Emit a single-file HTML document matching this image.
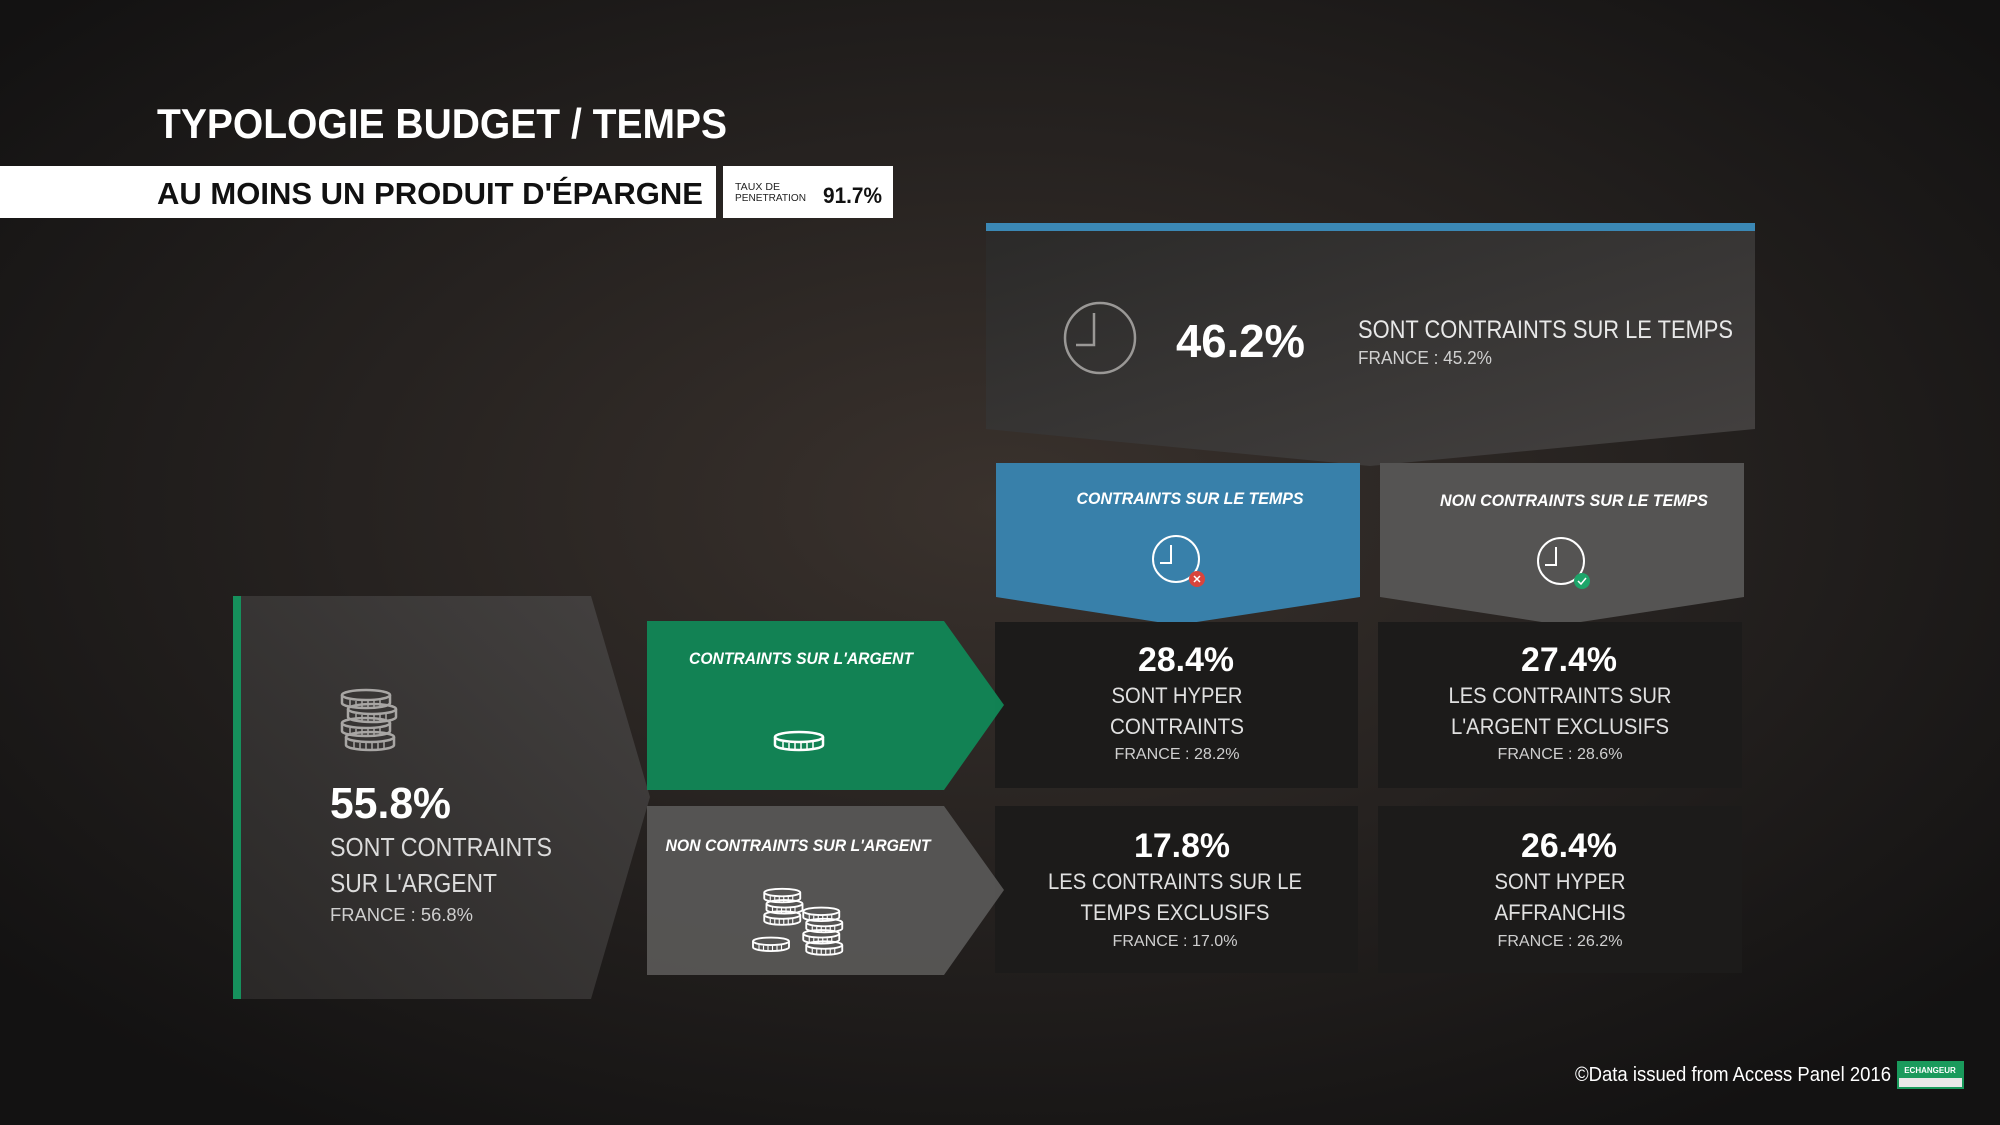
<!DOCTYPE html>
<html><head><meta charset="utf-8"><style>
html,body{margin:0;padding:0;background:#151313;}
svg{display:block}
text{font-family:"Liberation Sans",sans-serif;}
</style></head><body>
<svg width="2000" height="1125" viewBox="0 0 2000 1125" xmlns="http://www.w3.org/2000/svg">
<defs>
<radialGradient id="bg" cx="0.5" cy="0.45" r="0.65">
<stop offset="0" stop-color="#3a322d"/>
<stop offset="0.5" stop-color="#262220"/>
<stop offset="1" stop-color="#131212"/>
</radialGradient>
<linearGradient id="topbox" x1="0" y1="0" x2="1" y2="1">
<stop offset="0" stop-color="#2b2a29"/><stop offset="1" stop-color="#444140"/>
</linearGradient>
<linearGradient id="leftbox" x1="0" y1="1" x2="1" y2="0">
<stop offset="0" stop-color="#2a2827"/><stop offset="1" stop-color="#444140"/>
</linearGradient>
<g id="coin">
<ellipse cx="0" cy="0" rx="24" ry="5" fill="none" stroke="currentColor" stroke-width="2.5"/>
<path d="M-24 0 v8 a24 5 0 0 0 48 0 v-8" fill="none" stroke="currentColor" stroke-width="2.5"/>
<path d="M-16 5v7 M-10 6v7 M-4 6v7 M2 6v7 M8 6v7 M14 5v7" stroke="currentColor" stroke-width="1.5"/>
</g>
</defs>
<rect width="2000" height="1125" fill="url(#bg)"/>

<!-- title -->
<text x="157" y="138" font-size="42" font-weight="bold" fill="#fff" textLength="570" lengthAdjust="spacingAndGlyphs">TYPOLOGIE BUDGET / TEMPS</text>
<rect x="0" y="166" width="716" height="52" fill="#fff"/>
<text x="157" y="204" font-size="31" font-weight="bold" fill="#111" textLength="546" lengthAdjust="spacingAndGlyphs">AU MOINS UN PRODUIT D'ÉPARGNE</text>
<rect x="723" y="166" width="170" height="52" fill="#fff"/>
<text x="735" y="190" font-size="10" fill="#222" textLength="45" lengthAdjust="spacingAndGlyphs">TAUX DE</text>
<text x="735" y="201" font-size="10" fill="#222" textLength="71" lengthAdjust="spacingAndGlyphs">PENETRATION</text>
<text x="823" y="203" font-size="22" font-weight="bold" fill="#111" textLength="59" lengthAdjust="spacingAndGlyphs">91.7%</text>

<!-- top box -->
<polygon points="986,231 1755,231 1755,429 1370,466 986,429" fill="url(#topbox)"/>
<rect x="986" y="223" width="769" height="8" fill="#3b88b5"/>
<circle cx="1100" cy="338" r="35" fill="none" stroke="#9a9896" stroke-width="2.5"/>
<path d="M1094 313 v32 h-18" fill="none" stroke="#9a9896" stroke-width="2.5"/>
<text x="1176" y="357" font-size="46" font-weight="bold" fill="#fff" textLength="129" lengthAdjust="spacingAndGlyphs">46.2%</text>
<text x="1358" y="338" font-size="25" fill="#e8e8e8" textLength="375" lengthAdjust="spacingAndGlyphs">SONT CONTRAINTS SUR LE TEMPS</text>
<text x="1358" y="364" font-size="18" fill="#d0d0d0" textLength="134" lengthAdjust="spacingAndGlyphs">FRANCE :  45.2%</text>

<!-- blue and grey header boxes -->
<polygon points="996,463 1360,463 1360,597 1177,625 996,597" fill="#3880aa"/>
<polygon points="1380,463 1744,463 1744,597 1561,625 1380,597" fill="#555453"/>
<text x="1190" y="504" font-size="17" font-weight="bold" font-style="italic" fill="#fff" text-anchor="middle" textLength="227" lengthAdjust="spacingAndGlyphs">CONTRAINTS SUR LE TEMPS</text>
<text x="1574" y="506" font-size="17" font-weight="bold" font-style="italic" fill="#fff" text-anchor="middle" textLength="268" lengthAdjust="spacingAndGlyphs">NON CONTRAINTS SUR LE TEMPS</text>
<circle cx="1176" cy="559" r="23" fill="none" stroke="#fff" stroke-width="2"/>
<path d="M1171 545 v18 h-11" fill="none" stroke="#fff" stroke-width="2"/>
<circle cx="1197" cy="579" r="8" fill="#d9443c"/>
<path d="M1194 576l6 6M1200 576l-6 6" stroke="#fff" stroke-width="1.5"/>
<circle cx="1561" cy="561" r="23" fill="none" stroke="#fff" stroke-width="2"/>
<path d="M1556 547 v18 h-11" fill="none" stroke="#fff" stroke-width="2"/>
<circle cx="1582" cy="581" r="8" fill="#1da56a"/>
<path d="M1578 581l3 3 5-6" fill="none" stroke="#fff" stroke-width="1.5"/>

<!-- cells -->
<rect x="995" y="622" width="363" height="166" fill="#1c1b1a"/>
<rect x="1378" y="622" width="364" height="166" fill="#1c1b1a"/>
<rect x="995" y="806" width="363" height="167" fill="#1c1b1a"/>
<rect x="1378" y="806" width="364" height="167" fill="#1c1b1a"/>
<g fill="#fff" text-anchor="middle">
<text x="1186" y="671" font-size="34" font-weight="bold" textLength="96" lengthAdjust="spacingAndGlyphs">28.4%</text>
<text x="1177" y="703" font-size="22" fill="#e0e0e0" textLength="131" lengthAdjust="spacingAndGlyphs">SONT HYPER</text>
<text x="1177" y="734" font-size="22" fill="#e0e0e0" textLength="134" lengthAdjust="spacingAndGlyphs">CONTRAINTS</text>
<text x="1177" y="759" font-size="16" fill="#cfcfcf" textLength="125" lengthAdjust="spacingAndGlyphs">FRANCE :  28.2%</text>
<text x="1569" y="671" font-size="34" font-weight="bold" textLength="96" lengthAdjust="spacingAndGlyphs">27.4%</text>
<text x="1560" y="703" font-size="22" fill="#e0e0e0" textLength="223" lengthAdjust="spacingAndGlyphs">LES CONTRAINTS SUR</text>
<text x="1560" y="734" font-size="22" fill="#e0e0e0" textLength="218" lengthAdjust="spacingAndGlyphs">L'ARGENT EXCLUSIFS</text>
<text x="1560" y="759" font-size="16" fill="#cfcfcf" textLength="125" lengthAdjust="spacingAndGlyphs">FRANCE :  28.6%</text>
<text x="1182" y="857" font-size="34" font-weight="bold" textLength="96" lengthAdjust="spacingAndGlyphs">17.8%</text>
<text x="1175" y="889" font-size="22" fill="#e0e0e0" textLength="254" lengthAdjust="spacingAndGlyphs">LES CONTRAINTS SUR LE</text>
<text x="1175" y="920" font-size="22" fill="#e0e0e0" textLength="189" lengthAdjust="spacingAndGlyphs">TEMPS EXCLUSIFS</text>
<text x="1175" y="946" font-size="16" fill="#cfcfcf" textLength="125" lengthAdjust="spacingAndGlyphs">FRANCE :  17.0%</text>
<text x="1569" y="857" font-size="34" font-weight="bold" textLength="96" lengthAdjust="spacingAndGlyphs">26.4%</text>
<text x="1560" y="889" font-size="22" fill="#e0e0e0" textLength="131" lengthAdjust="spacingAndGlyphs">SONT HYPER</text>
<text x="1560" y="920" font-size="22" fill="#e0e0e0" textLength="131" lengthAdjust="spacingAndGlyphs">AFFRANCHIS</text>
<text x="1560" y="946" font-size="16" fill="#cfcfcf" textLength="125" lengthAdjust="spacingAndGlyphs">FRANCE :  26.2%</text>
</g>

<!-- left panel -->
<polygon points="233,596 591,596 650,797 591,999 233,999" fill="url(#leftbox)"/>
<rect x="233" y="596" width="8" height="403" fill="#16905c"/>
<g color="#a8a6a4">
<use href="#coin" x="366" y="695"/>
<use href="#coin" x="372" y="709"/>
<use href="#coin" x="366" y="723"/>
<use href="#coin" x="370" y="737"/>
</g>
<text x="330" y="818" font-size="44" font-weight="bold" fill="#fff" textLength="121" lengthAdjust="spacingAndGlyphs">55.8%</text>
<text x="330" y="856" font-size="26" fill="#dcdcdc" textLength="222" lengthAdjust="spacingAndGlyphs">SONT CONTRAINTS</text>
<text x="330" y="892" font-size="26" fill="#dcdcdc" textLength="167" lengthAdjust="spacingAndGlyphs">SUR L'ARGENT</text>
<text x="330" y="921" font-size="18" fill="#cfcfcf" textLength="143" lengthAdjust="spacingAndGlyphs">FRANCE :  56.8%</text>

<!-- green / grey arrows -->
<polygon points="647,621 944,621 1004,705 944,790 647,790" fill="#128556" opacity="0.97"/>
<polygon points="647,806 944,806 1004,890 944,975 647,975" fill="#575655" opacity="0.97"/>
<text x="801" y="664" font-size="17" font-weight="bold" font-style="italic" fill="#fff" text-anchor="middle" textLength="224" lengthAdjust="spacingAndGlyphs">CONTRAINTS SUR L'ARGENT</text>
<text x="798" y="851" font-size="17" font-weight="bold" font-style="italic" fill="#fff" text-anchor="middle" textLength="265" lengthAdjust="spacingAndGlyphs">NON CONTRAINTS SUR L'ARGENT</text>
<g color="#fff">
<use href="#coin" x="799" y="737"/>
<g transform="scale(0.75)">
<use href="#coin" x="1043" y="1190"/>
<use href="#coin" x="1046" y="1205"/>
<use href="#coin" x="1043" y="1220"/>
<use href="#coin" x="1095" y="1215"/>
<use href="#coin" x="1099" y="1230"/>
<use href="#coin" x="1095" y="1245"/>
<use href="#coin" x="1099" y="1260"/>
<use href="#coin" x="1028" y="1255"/>
</g>
</g>

<!-- footer -->
<text x="1575" y="1081" font-size="20" fill="#fff" textLength="316" lengthAdjust="spacingAndGlyphs">©Data issued from Access Panel 2016</text>
<rect x="1897" y="1061" width="67" height="28" fill="#1a9a5c"/>
<rect x="1899" y="1078" width="63" height="9" fill="#e8e8e8"/>
<text x="1930" y="1073" font-size="8" font-weight="bold" fill="#fff" text-anchor="middle">ECHANGEUR</text>
</svg>
</body></html>
